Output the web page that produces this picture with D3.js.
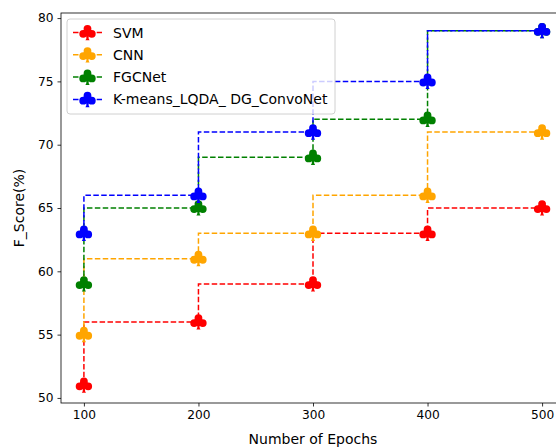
<!DOCTYPE html>
<html>
<head>
<meta charset="utf-8">
<script src="https://cdn.jsdelivr.net/npm/d3@7"></script>
<style>
  body { margin: 0; background: #fff; }
  svg text { font-family: "DejaVu Sans", sans-serif; }
</style>
</head>
<body>
<svg id="chart" width="556" height="448"></svg>
<script>
// data
var epochs = [100, 200, 300, 400, 500]
var svmScores = [51, 56, 59, 63, 65]
var cnnScores = [55, 61, 63, 66, 71]
var fgcnetScores = [59, 65, 69, 72, 79]
var oursScores = [63, 66, 71, 75, 79]
var seriesNames = ['SVM', 'CNN', 'FGCNet', 'K-means_LQDA_ DG_ConvoNet']
var seriesColors = ['red', 'orange', 'green', 'blue']
var yTicks = [50, 55, 60, 65, 70, 75, 80]

var allSeries = [svmScores, cnnScores, fgcnetScores, oursScores]

var svg = d3.select('#chart')
var mLeft = 61, mTop = 13, mRight = 565, mBottom = 403

var x = d3.scaleLinear().domain([80, 520]).range([mLeft, mRight])
var y = d3.scaleLinear().domain([49.6, 80.4]).range([mBottom, mTop])

// club marker, like the mathtext \clubsuit marker
var club = {
    draw: function (ctx, size) {
        var r = 3.9
        ctx.moveTo(r, -3.7); ctx.arc(0, -3.7, r, 0, 2 * Math.PI)
        ctx.moveTo(-4.3 + r, 1.3); ctx.arc(-4.3, 1.3, r, 0, 2 * Math.PI)
        ctx.moveTo(4.3 + r, 1.3); ctx.arc(4.3, 1.3, r, 0, 2 * Math.PI)
        ctx.moveTo(-1, 0)
        ctx.lineTo(1, 0)
        ctx.lineTo(1.2, 6.2)
        ctx.lineTo(2.1, 7.8)
        ctx.lineTo(-2.1, 7.8)
        ctx.lineTo(-1.2, 6.2)
        ctx.closePath()
    }
}
var clubPath = d3.symbol(club, 1)()

var line = d3.line()
    .x((d, i) => x(epochs[i]))
    .y(d => y(d))
    .curve(d3.curveStepBefore)

// axes
var xAxis = svg.append('g')
    .attr('transform', 'translate(0,' + mBottom + ')')
    .call(d3.axisBottom(x).tickValues(epochs).tickSize(3.5).tickPadding(4))
var yAxis = svg.append('g')
    .attr('transform', 'translate(' + mLeft + ',0)')
    .call(d3.axisLeft(y).tickValues(yTicks).tickSize(3.5).tickPadding(4))

;[xAxis, yAxis].forEach(function (g) {
    g.select('.domain').remove()
    g.selectAll('line').attr('stroke', '#000').attr('stroke-width', 0.8)
    g.selectAll('text').attr('font-size', 12.2).attr('fill', '#000')
        .style('font-family', '"DejaVu Sans", sans-serif')
})

// frame
svg.append('rect')
    .attr('x', mLeft).attr('y', mTop)
    .attr('width', mRight - mLeft).attr('height', mBottom - mTop)
    .attr('fill', 'none').attr('stroke', '#000').attr('stroke-width', 0.8)

// lines + markers
allSeries.forEach(function (vals, k) {
    svg.append('path')
        .attr('d', line(vals))
        .attr('fill', 'none')
        .attr('stroke', seriesColors[k])
        .attr('stroke-width', 1.5)
        .attr('stroke-dasharray', '5.5,2.4')

    svg.selectAll(null).data(vals).enter().append('path')
        .attr('d', clubPath)
        .attr('transform', (d, i) => 'translate(' + x(epochs[i]) + ',' + (y(d) - 0.2) + ')')
        .attr('fill', seriesColors[k])
})

// legend
var lg = svg.append('g').attr('transform', 'translate(67,19)')
lg.append('rect')
    .attr('width', 268).attr('height', 95).attr('rx', 3)
    .attr('fill', '#fff').attr('fill-opacity', 0.8)
    .attr('stroke', '#d0d0d0').attr('stroke-width', 1)

seriesNames.forEach(function (name, k) {
    var cy = 13.5 + k * 22.3
    lg.append('line')
        .attr('x1', 6).attr('x2', 35).attr('y1', cy).attr('y2', cy)
        .attr('stroke', seriesColors[k]).attr('stroke-width', 1.5)
        .attr('stroke-dasharray', '5.5,2.4')
    lg.append('path')
        .attr('d', clubPath)
        .attr('transform', 'translate(20.5,' + cy + ')')
        .attr('fill', seriesColors[k])
    lg.append('text')
        .attr('x', 46).attr('y', cy + 5)
        .attr('font-size', 14)
        .text(name)
})

// axis titles
svg.append('text')
    .attr('x', (mLeft + mRight) / 2).attr('y', 444)
    .attr('text-anchor', 'middle').attr('font-size', 14)
    .text('Number of Epochs')
svg.append('text')
    .attr('transform', 'translate(24,' + (mTop + mBottom) / 2 + ') rotate(-90)')
    .attr('text-anchor', 'middle').attr('font-size', 14)
    .text('F_Score(%)')
</script>
</body>
</html>
